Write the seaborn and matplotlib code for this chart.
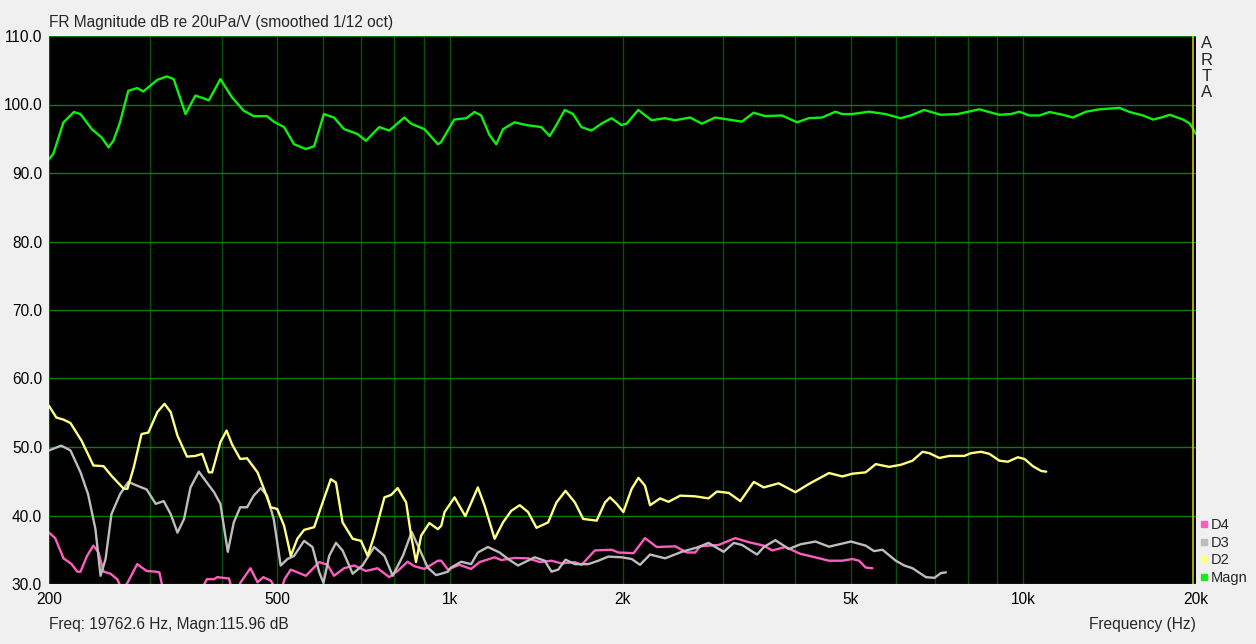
import numpy as np
import matplotlib
matplotlib.use("Agg")
import matplotlib.pyplot as plt
from matplotlib.lines import Line2D
import seaborn as sns

# Magn (green) - frequency in Hz, level in dB
magn_f = [200, 203.5, 212, 221, 227, 237.5, 247, 254, 259, 266, 275, 285, 292, 309, 321, 330,
          346, 360, 372, 380, 398, 417, 437, 455, 480, 493, 514, 535, 561, 580, 603, 628,
          654, 690, 714, 753, 784, 833, 856, 903, 953, 965, 1018, 1068, 1104, 1134, 1173,
          1205, 1238, 1297, 1359, 1444, 1493, 1534, 1586, 1640, 1696, 1766, 1838, 1914,
          1993, 2033, 2131, 2248, 2372, 2469, 2623, 2750, 2901, 3062, 3230, 3386, 3548,
          3795, 4031, 4225, 4458, 4703, 4832, 5030, 5380, 5752, 6110, 6360, 6713, 7177,
          7677, 8377, 9080, 9514, 9842, 10246, 10667, 11105, 11716, 12197, 12868, 13581,
          14721, 15325, 16169, 16832, 17404, 18002, 18994, 19514, 20000]
magn_db = [92.0, 92.8, 97.4, 98.9, 98.6, 96.4, 95.2, 93.75, 94.7, 97.4, 102.0, 102.4, 101.9,
           103.6, 104.1, 103.7, 98.6, 101.3, 100.9, 100.6, 103.7, 101.05, 99.1, 98.3, 98.3,
           97.5, 96.7, 94.2, 93.5, 93.9, 98.6, 98.1, 96.4, 95.7, 94.7, 96.7, 96.2, 98.1,
           97.2, 96.4, 94.2, 94.5, 97.8, 98.0, 98.9, 98.4, 95.5, 94.2, 96.4, 97.4, 97.0,
           96.7, 95.4, 97.0, 99.2, 98.6, 96.7, 96.2, 97.2, 98.0, 97.0, 97.2, 99.2, 97.7,
           98.0, 97.7, 98.1, 97.2, 98.1, 97.8, 97.5, 98.8, 98.3, 98.4, 97.4, 98.0, 98.1,
           98.95, 98.6, 98.6, 98.95, 98.6, 98.0, 98.4, 99.2, 98.5, 98.6, 99.3, 98.5, 98.6,
           98.95, 98.4, 98.4, 98.9, 98.5, 98.1, 98.95, 99.3, 99.5, 98.9, 98.4, 97.8, 98.1,
           98.5, 97.8, 97.2, 95.7]

# D2 (yellow)
d2_f = [200, 206, 212, 218, 228, 239, 249, 257, 270, 274, 281, 290, 298, 309, 318, 326, 335,
        348, 360, 370, 380, 385, 398, 408, 417, 431, 443, 462, 474, 487, 500, 514, 528, 542,
        557, 580, 600, 620, 633, 650, 677, 700, 719, 738, 769, 790, 811, 839, 856, 873, 891,
        921, 953, 966, 979, 1019, 1064, 1119, 1150, 1197, 1238, 1280, 1324, 1369, 1416, 1484,
        1534, 1591, 1652, 1708, 1803, 1864, 1902, 1954, 2007, 2075, 2132, 2189, 2234, 2326,
        2406, 2521, 2678, 2825, 2922, 3064, 3210, 3388, 3527, 3744, 4005, 4226, 4583, 4834,
        5033, 5310, 5528, 5834, 6112, 6408, 6672, 6855, 7136, 7429, 7892, 8104, 8438, 8725,
        9085, 9394, 9780, 10047, 10389, 10743, 10961]
d2_db = [56.0, 54.3, 54.0, 53.5, 50.9, 47.3, 47.2, 45.8, 43.9, 43.9, 47.0, 51.9, 52.1, 55.1,
         56.3, 55.1, 51.65, 48.6, 48.7, 49.0, 46.3, 46.3, 50.7, 52.4, 50.4, 48.25, 48.35, 46.3,
         43.9, 41.2, 40.95, 38.5, 34.1, 36.6, 37.9, 38.3, 41.9, 45.3, 44.8, 39.0, 36.6, 36.3,
         34.1, 37.05, 42.65, 43.0, 44.0, 41.9, 37.05, 33.2, 37.05, 38.9, 38.0, 38.5, 40.5,
         42.65, 39.9, 44.1, 41.4, 36.6, 39.0, 40.7, 41.5, 40.5, 38.2, 39.0, 41.9, 43.6, 41.9,
         39.5, 39.25, 41.9, 42.65, 41.7, 40.5, 43.9, 45.5, 44.35, 41.5, 42.5, 42.0, 42.9, 42.8,
         42.5, 43.5, 43.3, 42.1, 44.9, 44.1, 44.7, 43.4, 44.6, 46.2, 45.7, 46.1, 46.3, 47.5,
         47.1, 47.4, 48.0, 49.3, 49.1, 48.4, 48.7, 48.7, 49.1, 49.3, 49.0, 48.0, 47.85, 48.5,
         48.25, 47.2, 46.5, 46.4]

# D3 (grey)
d3_f = [200, 210, 218, 227, 234, 241, 246, 251, 257, 266, 275, 285, 296, 307, 317, 326, 335,
        344, 353, 365, 377, 388, 398, 410, 420, 431, 443, 455, 468, 480, 493, 507, 521, 535,
        557, 576, 592, 602, 616, 633, 650, 677, 704, 738, 769, 795, 828, 858, 885, 915, 946,
        966, 992, 1005, 1047, 1089, 1119, 1165, 1221, 1263, 1315, 1406, 1464, 1504, 1545,
        1591, 1652, 1743, 1815, 1889, 1993, 2075, 2146, 2234, 2373, 2538, 2715, 2825, 3002,
        3127, 3232, 3433, 3528, 3695, 3900, 4086, 4341, 4583, 5005, 5310, 5491, 5679, 5992,
        6199, 6408, 6762, 6998, 7183, 7328]
d3_db = [49.5, 50.2, 49.5, 46.3, 43.1, 38.0, 31.2, 33.65, 40.2, 43.1, 44.9, 44.35, 43.8, 41.7,
         42.1, 40.2, 37.5, 39.5, 44.1, 46.4, 44.8, 43.4, 41.7, 34.7, 39.0, 41.2, 41.2, 42.9,
         44.0, 42.9, 39.5, 32.7, 33.65, 34.1, 36.3, 35.4, 31.7, 30.15, 34.1, 36.0, 34.9, 31.5,
         32.7, 35.4, 34.1, 31.2, 34.1, 37.6, 35.1, 32.4, 31.3, 31.5, 31.8, 32.4, 33.25, 32.9,
         34.6, 35.4, 34.6, 33.65, 32.7, 33.9, 33.4, 31.8, 32.1, 33.55, 32.9, 32.9, 33.4, 34.0,
         33.9, 33.65, 32.8, 34.3, 33.75, 34.7, 35.4, 36.0, 34.7, 36.0, 35.7, 34.3, 35.4, 36.4,
         35.1, 35.8, 36.2, 35.45, 36.2, 35.6, 34.8, 35.0, 33.4, 32.7, 32.3, 31.0, 30.9, 31.6,
         31.7]

# D4 (pink) - dips below 30 dB are cut off by the axis
d4_f = [200, 205, 212, 219, 224, 227, 233, 239, 244, 249, 256, 263, 266, 269, 272, 274, 285,
        296, 307, 311.5, 315, 340, 372, 374, 377, 388, 393, 412, 415, 422, 430, 431, 449, 462,
        473, 487, 493, 502, 511, 515, 528, 546, 561, 592, 612, 628, 654, 681, 714, 748, 784,
        811, 844, 867, 903, 953, 966, 992, 1039, 1089, 1127, 1197, 1229, 1297, 1369, 1435,
        1504, 1566, 1652, 1697, 1790, 1915, 1967, 2091, 2189, 2295, 2471, 2591, 2678, 2732,
        2942, 3146, 3320, 3528, 3646, 3847, 4086, 4284, 4583, 4834, 5033, 5171, 5310, 5454]
d4_db = [37.5, 36.7, 33.75, 32.9, 31.8, 31.8, 34.1, 35.6, 34.6, 31.8, 31.5, 30.7, 29.8, 29.0,
         29.8, 30.15, 32.9, 31.9, 31.8, 31.7, 29.8, 27.0, 29.8, 30.15, 30.7, 30.7, 31.0, 30.8,
         29.8, 28.5, 29.8, 30.15, 32.3, 30.25, 31.0, 30.5, 29.8, 28.5, 29.8, 30.7, 32.1, 31.6,
         31.2, 33.2, 32.8, 31.2, 32.3, 32.7, 31.9, 32.3, 31.0, 31.9, 33.25, 32.6, 32.2, 33.4,
         33.4, 32.1, 32.8, 32.2, 33.2, 33.9, 33.5, 33.8, 33.75, 33.2, 33.4, 33.0, 33.2, 32.8,
         34.9, 35.0, 34.6, 34.5, 36.7, 35.4, 35.5, 34.6, 34.6, 35.5, 35.7, 36.7, 36.1, 35.6,
         34.9, 35.4, 34.4, 34.0, 33.4, 33.4, 33.65, 33.4, 32.4, 32.3]

series = [("D4", d4_f, d4_db, "#ff5cc0"),
          ("D3", d3_f, d3_db, "#bdbdbd"),
          ("D2", d2_f, d2_db, "#ffff80"),
          ("Magn", magn_f, magn_db, "#10f010")]

x_major = [200, 500, 1000, 2000, 5000, 10000, 20000]
x_labels = ["200", "500", "1k", "2k", "5k", "10k", "20k"]
x_minor = [300, 400, 600, 700, 800, 900, 3000, 4000, 6000, 7000, 8000, 9000]
y_ticks = [30, 40, 50, 60, 70, 80, 90, 100, 110]

sns.set_style("dark")
plt.rcParams["font.family"] = ["Liberation Sans", "DejaVu Sans"]
fs = 11.2

fig = plt.figure(figsize=(12.56, 6.44), dpi=100, facecolor="#f0f0f0")
ax = fig.add_axes([49 / 1256, 1 - 584 / 644, (1196 - 49) / 1256, (584 - 36) / 644])
ax.set_facecolor("black")

for name, f, db, col in series:
    sns.lineplot(x=f, y=db, color=col, lw=1.7, ax=ax, legend=False, sort=False, zorder=3)

ax.axvline(19762.6, color="#c8c800", lw=1.2, zorder=4)

ax.set_xscale("log")
ax.set_xlim(200, 20000)
ax.set_ylim(30, 110)
ax.set_xticks(x_major)
ax.set_xticklabels(x_labels)
ax.set_xticks(x_minor, minor=True)
ax.set_xticklabels([], minor=True)
ax.set_yticks(y_ticks)
ax.set_yticklabels([f"{v:.1f}" for v in y_ticks])
ax.tick_params(which="both", length=0, labelsize=fs, colors="black", pad=5)
ax.tick_params(axis="x", pad=6)
ax.grid(axis="x", which="both", color="#0a500a", lw=1.0, zorder=1)
ax.grid(axis="y", which="major", color="#0c7a0c", lw=1.0, zorder=1)
ax.set_xlabel("")
ax.set_ylabel("")
for s in ax.spines.values():
    s.set_visible(False)

fig.text(49 / 1256, 1 - 22 / 644, "FR Magnitude dB re 20uPa/V (smoothed 1/12 oct)",
         fontsize=fs, va="center", ha="left")
fig.text(49 / 1256, 1 - 624 / 644, "Freq: 19762.6 Hz, Magn:115.96 dB",
         fontsize=fs, va="center", ha="left")
fig.text(1196 / 1256, 1 - 624 / 644, "Frequency (Hz)", fontsize=fs, va="center", ha="right")
for i, ch in enumerate("ARTA"):
    fig.text(1207 / 1256, 1 - (44 + i * 16.3) / 644, ch, fontsize=12, va="center", ha="center")

handles = [Line2D([], [], ls="none", marker="s", ms=5, mfc=c, mec=c) for _, _, _, c in series]
fig.legend(handles, [s[0] for s in series], loc="lower left",
           bbox_to_anchor=(1200 / 1256, 1 - 586 / 644), frameon=False, fontsize=10.5,
           handlelength=0.4, handletextpad=0.3, labelspacing=0.26, borderpad=0.05,
           borderaxespad=0)

fig.savefig("out.png", dpi=100, facecolor=fig.get_facecolor())
